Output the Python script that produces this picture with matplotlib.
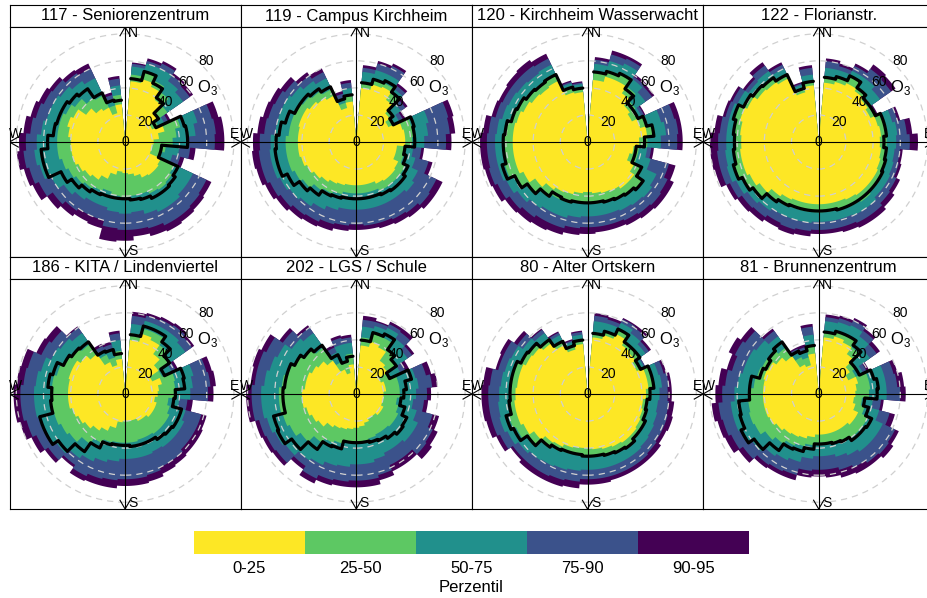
import numpy as np
import matplotlib.pyplot as plt
from matplotlib.patches import Circle, Rectangle

plt.rcParams['font.family'] = ['Liberation Sans', 'DejaVu Sans']
plt.rcParams['mathtext.fontset'] = 'custom'
plt.rcParams['mathtext.rm'] = 'Liberation Sans'

# wind direction sectors (centre of each 10 degree bin)
wd = list(range(10, 360, 10))

band_labels = ['0-25', '25-50', '50-75', '75-90', '90-95']
band_colors = ['#FDE725', '#5DC863', '#21908C', '#3B528B', '#440154']
ring_values = [0, 20, 40, 60, 80]

# --- 117 - Seniorenzentrum
p25_117 = [45, 48, 45, 38, 30, 22, 30, 25, 21, 20, 20, 29, 30, 30, 29, 26, 24, 23, 22, 25, 30, 34, 36, 38, 40, 40, 40, 42, 44, 42, 35, 30, 28, 22, 28]
p50_117 = [50, 54, 50, 45, 38, 27, 42, 38, 35, 30, 28, 40, 42, 43, 42, 40, 40, 41, 40, 38, 40, 42, 44, 46, 48, 50, 50, 50, 50, 48, 45, 40, 38, 28, 35]
p75_117 = [56, 60, 60, 55, 52, 32, 55, 52, 47, 40, 36, 55, 55, 57, 57, 55, 52, 53, 52, 50, 50, 52, 55, 60, 65, 67, 65, 62, 60, 60, 58, 55, 52, 33, 42]
p90_117 = [58, 62, 64, 60, 58, 35, 66, 67, 66, 48, 42, 66, 67, 68, 68, 66, 65, 65, 64, 60, 60, 62, 65, 70, 73, 75, 73, 70, 68, 66, 65, 62, 60, 36, 47]
p95_117 = [59, 64, 66, 62, 61, 37, 71, 73, 73, 52, 45, 70, 71, 72, 73, 72, 70, 73, 74, 66, 65, 67, 70, 75, 77, 80, 78, 75, 72, 70, 68, 65, 64, 38, 49]
mean_117 = [47, 54, 48, 40, 30, 25, 45, 46, 46, 27, 27, 43, 45, 46, 46, 44, 43, 42, 42, 42, 43, 45, 48, 52, 62, 62, 57, 53, 52, 52, 50, 48, 40, 32, 31]

# --- 119 - Campus Kirchheim
p25_119 = [40, 44, 45, 38, 30, 26, 35, 36, 36, 30, 30, 34, 35, 35, 34, 32, 32, 32, 32, 33, 34, 36, 38, 40, 42, 43, 43, 43, 44, 44, 42, 40, 38, 26, 30]
p50_119 = [45, 48, 48, 44, 34, 30, 42, 42, 41, 35, 36, 40, 40, 40, 40, 38, 38, 38, 38, 40, 42, 44, 48, 50, 52, 52, 52, 50, 50, 50, 48, 46, 43, 30, 35]
p75_119 = [52, 55, 55, 48, 40, 35, 55, 53, 50, 42, 45, 50, 52, 50, 50, 50, 50, 50, 50, 52, 55, 58, 60, 62, 64, 64, 63, 60, 60, 60, 58, 55, 52, 34, 40]
p90_119 = [55, 60, 62, 51, 44, 38, 70, 69, 66, 48, 55, 65, 66, 64, 63, 62, 62, 61, 62, 63, 65, 66, 68, 70, 72, 72, 71, 68, 67, 66, 64, 60, 57, 37, 44]
p95_119 = [57, 62, 64, 53, 46, 40, 74, 73, 70, 50, 58, 70, 70, 68, 67, 66, 65, 65, 66, 68, 69, 70, 72, 74, 76, 77, 76, 73, 71, 70, 68, 63, 60, 39, 46]
mean_119 = [44, 48, 50, 45, 33, 30, 44, 43, 43, 36, 38, 42, 44, 44, 43, 42, 42, 42, 42, 43, 44, 48, 51, 56, 60, 60, 59, 57, 54, 50, 50, 48, 45, 33, 35]

# --- 120 - Kirchheim Wasserwacht
p25_120 = [46, 50, 50, 44, 38, 36, 40, 44, 38, 34, 32, 38, 42, 42, 40, 39, 38, 37, 38, 40, 41, 43, 47, 52, 55, 55, 55, 55, 54, 52, 50, 49, 50, 38, 37]
p50_120 = [52, 55, 57, 50, 43, 41, 46, 50, 44, 38, 38, 45, 50, 48, 47, 46, 46, 45, 45, 47, 47, 50, 55, 60, 63, 62, 62, 61, 59, 58, 56, 55, 56, 43, 41]
p75_120 = [58, 62, 64, 57, 52, 44, 56, 58, 54, 44, 48, 56, 58, 57, 56, 55, 55, 55, 56, 58, 58, 60, 63, 66, 68, 68, 68, 67, 65, 64, 63, 62, 63, 45, 43]
p90_120 = [61, 67, 68, 59, 58, 46, 66, 67, 66, 47, 62, 65, 66, 65, 64, 63, 63, 63, 64, 66, 66, 68, 70, 73, 75, 74, 74, 73, 70, 69, 69, 69, 68, 46, 44]
p95_120 = [63, 70, 70, 61, 60, 47, 70, 70, 70, 49, 67, 70, 70, 69, 68, 67, 67, 68, 69, 71, 72, 73, 74, 77, 78, 79, 79, 77, 73, 72, 73, 74, 72, 47, 45]
mean_120 = [52, 54, 56, 48, 41, 41, 45, 49, 42, 36, 36, 44, 50, 48, 47, 46, 45, 45, 45, 46, 45, 49, 54, 59, 65, 62, 62, 61, 58, 57, 55, 54, 55, 42, 40]

# --- 122 - Florianstr.
p25_122 = [44, 46, 48, 46, 44, 42, 45, 46, 45, 46, 47, 48, 48, 48, 47, 46, 46, 46, 46, 46, 47, 49, 53, 56, 58, 58, 57, 58, 60, 58, 55, 54, 52, 38, 42]
p50_122 = [48, 50, 54, 50, 47, 45, 50, 51, 50, 51, 52, 53, 53, 54, 53, 52, 52, 52, 52, 52, 53, 55, 58, 62, 64, 63, 62, 63, 65, 62, 60, 59, 56, 42, 46]
p75_122 = [55, 55, 58, 58, 55, 46, 56, 58, 57, 56, 57, 58, 58, 60, 60, 59, 59, 59, 60, 60, 60, 62, 64, 67, 70, 69, 68, 68, 68, 66, 63, 64, 60, 44, 50]
p90_122 = [60, 58, 62, 66, 65, 47, 60, 65, 67, 60, 61, 63, 64, 66, 66, 65, 65, 65, 66, 67, 66, 68, 69, 72, 75, 75, 74, 73, 71, 70, 66, 69, 63, 45, 55]
p95_122 = [62, 60, 64, 70, 69, 48, 62, 69, 73, 62, 63, 66, 68, 70, 70, 69, 68, 68, 70, 71, 70, 72, 73, 75, 79, 80, 80, 77, 73, 72, 68, 72, 65, 46, 57]
mean_122 = [48, 50, 54, 49, 46, 46, 50, 50, 48, 50, 51, 52, 52, 52, 52, 52, 51, 51, 51, 51, 52, 54, 59, 62, 65, 63, 62, 63, 65, 61, 59, 58, 55, 41, 45]

# --- 186 - KITA / Lindenviertel
p25_186 = [40, 46, 44, 36, 30, 22, 28, 25, 24, 22, 24, 24, 24, 22, 22, 20, 20, 20, 21, 26, 30, 33, 36, 38, 40, 42, 42, 42, 43, 43, 40, 36, 26, 22, 26]
p50_186 = [45, 50, 50, 44, 40, 30, 38, 37, 36, 32, 34, 36, 36, 36, 35, 35, 36, 36, 36, 37, 40, 45, 50, 52, 54, 55, 55, 54, 52, 50, 48, 45, 32, 28, 32]
p75_186 = [52, 56, 56, 56, 54, 38, 52, 50, 48, 40, 46, 48, 48, 48, 47, 48, 48, 48, 50, 52, 55, 58, 62, 64, 66, 67, 67, 66, 64, 60, 58, 55, 36, 34, 40]
p90_186 = [58, 60, 61, 62, 60, 41, 62, 63, 61, 46, 58, 58, 58, 60, 60, 62, 63, 63, 64, 65, 67, 64, 69, 72, 75, 77, 77, 75, 74, 68, 66, 60, 39, 38, 45]
p95_186 = [61, 62, 63, 64, 62, 43, 66, 67, 65, 50, 62, 63, 63, 64, 65, 67, 68, 68, 70, 70, 71, 66, 72, 76, 80, 82, 82, 80, 79, 72, 71, 61, 41, 40, 47]
mean_186 = [44, 52, 52, 47, 40, 32, 45, 44, 37, 36, 43, 43, 42, 41, 39, 39, 39, 38, 38, 39, 44, 52, 60, 65, 65, 55, 54, 57, 55, 50, 48, 47, 35, 34, 30]

# --- 202 - LGS / Schule
p25_202 = [36, 40, 38, 30, 28, 20, 22, 22, 20, 20, 20, 22, 22, 20, 20, 22, 24, 25, 26, 27, 28, 30, 34, 36, 38, 40, 40, 38, 38, 36, 34, 30, 20, 16, 22]
p50_202 = [42, 46, 46, 40, 36, 27, 32, 32, 32, 30, 32, 34, 34, 33, 33, 34, 35, 35, 36, 38, 40, 44, 50, 54, 56, 57, 57, 55, 52, 50, 46, 42, 26, 24, 30]
p75_202 = [50, 52, 54, 50, 46, 36, 45, 46, 44, 42, 46, 50, 50, 48, 48, 50, 52, 52, 54, 55, 58, 60, 64, 66, 68, 70, 70, 68, 66, 64, 58, 55, 34, 38, 38]
p90_202 = [55, 55, 57, 56, 50, 40, 53, 56, 52, 50, 58, 62, 63, 58, 58, 62, 64, 64, 65, 66, 69, 65, 72, 73, 74, 77, 77, 75, 75, 73, 66, 60, 38, 43, 42]
p95_202 = [58, 56, 59, 59, 52, 43, 57, 60, 55, 53, 63, 66, 68, 63, 63, 66, 69, 69, 69, 70, 73, 68, 75, 76, 77, 81, 81, 78, 79, 77, 69, 62, 40, 45, 44]
mean_202 = [40, 47, 49, 40, 36, 27, 42, 37, 35, 33, 37, 41, 42, 40, 38, 37, 36, 36, 36, 42, 43, 50, 58, 64, 63, 54, 54, 53, 53, 50, 47, 44, 32, 25, 28]

# --- 80 - Alter Ortskern
p25_80 = [42, 45, 49, 44, 43, 40, 45, 45, 43, 41, 42, 43, 44, 44, 43, 42, 41, 40, 40, 41, 43, 44, 48, 52, 54, 54, 53, 52, 52, 50, 49, 46, 40, 34, 37]
p50_80 = [46, 48, 53, 48, 47, 44, 49, 49, 47, 45, 46, 47, 48, 49, 48, 47, 46, 46, 45, 46, 47, 49, 54, 58, 60, 58, 57, 57, 57, 55, 53, 50, 44, 38, 41]
p75_80 = [54, 54, 58, 55, 52, 46, 54, 55, 53, 52, 53, 54, 55, 56, 56, 56, 56, 56, 57, 58, 59, 60, 62, 65, 67, 66, 65, 64, 63, 62, 58, 55, 48, 40, 44]
p90_80 = [58, 57, 61, 60, 55, 47, 58, 60, 59, 60, 61, 61, 62, 63, 63, 63, 63, 63, 65, 66, 67, 67, 67, 71, 73, 73, 73, 72, 68, 68, 63, 58, 50, 41, 46]
p95_80 = [60, 59, 62, 62, 57, 47, 60, 62, 62, 64, 65, 64, 66, 66, 66, 66, 67, 67, 70, 71, 71, 71, 69, 74, 77, 78, 78, 77, 70, 71, 66, 59, 51, 42, 47]
mean_80 = [45, 48, 53, 47, 47, 43, 49, 49, 46, 44, 45, 47, 47, 49, 48, 47, 46, 46, 45, 45, 46, 48, 54, 60, 62, 58, 57, 57, 57, 54, 53, 49, 43, 37, 40]

# --- 81 - Brunnenzentrum
p25_81 = [42, 44, 42, 36, 28, 24, 30, 28, 27, 26, 28, 32, 32, 30, 30, 30, 30, 30, 32, 34, 35, 36, 38, 40, 41, 41, 41, 41, 42, 41, 38, 34, 24, 22, 30]
p50_81 = [46, 48, 48, 42, 34, 30, 38, 38, 37, 32, 35, 40, 40, 40, 38, 37, 36, 36, 38, 40, 42, 45, 48, 52, 53, 52, 50, 48, 47, 46, 44, 42, 30, 28, 36]
p75_81 = [54, 55, 56, 52, 46, 36, 50, 50, 50, 40, 46, 52, 52, 52, 50, 48, 46, 46, 48, 52, 54, 56, 60, 63, 65, 65, 62, 60, 58, 58, 56, 52, 34, 33, 44]
p90_81 = [57, 58, 60, 57, 52, 39, 57, 58, 60, 46, 54, 62, 63, 62, 60, 58, 56, 56, 57, 62, 63, 64, 68, 71, 73, 74, 71, 69, 66, 68, 66, 57, 37, 36, 50]
p95_81 = [59, 60, 62, 59, 55, 41, 60, 63, 64, 48, 58, 65, 67, 65, 65, 64, 62, 61, 62, 66, 66, 67, 72, 76, 77, 79, 76, 74, 70, 73, 70, 59, 38, 38, 52]
mean_81 = [46, 48, 48, 44, 33, 33, 42, 44, 43, 34, 38, 43, 42, 42, 39, 38, 37, 37, 41, 44, 45, 51, 58, 63, 60, 59, 51, 51, 45, 43, 45, 47, 35, 33, 36]

panels = [
    ('117 - Seniorenzentrum', [p25_117, p50_117, p75_117, p90_117, p95_117], mean_117),
    ('119 - Campus Kirchheim', [p25_119, p50_119, p75_119, p90_119, p95_119], mean_119),
    ('120 - Kirchheim Wasserwacht', [p25_120, p50_120, p75_120, p90_120, p95_120], mean_120),
    ('122 - Florianstr.', [p25_122, p50_122, p75_122, p90_122, p95_122], mean_122),
    ('186 - KITA / Lindenviertel', [p25_186, p50_186, p75_186, p90_186, p95_186], mean_186),
    ('202 - LGS / Schule', [p25_202, p50_202, p75_202, p90_202, p95_202], mean_202),
    ('80 - Alter Ortskern', [p25_80, p50_80, p75_80, p90_80, p95_80], mean_80),
    ('81 - Brunnenzentrum', [p25_81, p50_81, p75_81, p90_81, p95_81], mean_81),
]

W, H = 927, 598
upper = 85


def stepped(values, closed):
    # outline made of one arc per sector, stepping radially between sectors
    xs, ys = [], []
    if closed:
        xs.append(0.0)
        ys.append(0.0)
    for c, r in zip(wd, values):
        t = np.radians(np.linspace(c - 5, c + 5, 11))
        xs.extend(r * np.sin(t))
        ys.extend(r * np.cos(t))
    if closed:
        xs.append(0.0)
        ys.append(0.0)
    return xs, ys


def arrow_axes(ax):
    L = 7.5
    dx, dy = L * np.sin(np.radians(30)), L * np.cos(np.radians(30))
    ax.plot([-upper, upper], [0, 0], color='black', lw=0.8, zorder=4)
    ax.plot([0, 0], [-upper, upper], color='black', lw=0.8, zorder=4)
    for s in (1, -1):
        ax.plot([-dx, 0, dx], [s * (upper - dy), s * upper, s * (upper - dy)],
                color='black', lw=0.8, zorder=4)
        ax.plot([s * (upper - dy), s * upper, s * (upper - dy)], [-dx, 0, dx],
                color='black', lw=0.8, zorder=4)
    k = 0.95 * upper
    o = 0.07 * upper
    for x, y, lab in [(o, k, 'N'), (k, o, 'E'), (o, -k, 'S'), (-k, o, 'W')]:
        ax.text(x, y, lab, fontsize=10, ha='center', va='center', zorder=6)


fig = plt.figure(figsize=(W / 100, H / 100), dpi=100)

col_x = [9.5, 240.7, 471.9, 703.1]
pw, ph, sh = 231.2, 230, 22
row_top = [5, 257]

for i, (title, bands, mean) in enumerate(panels):
    row, col = divmod(i, 4)
    x0 = col_x[col]
    ys = row_top[row]
    sax = fig.add_axes([x0 / W, 1 - (ys + sh) / H, pw / W, sh / H])
    sax.set_xticks([])
    sax.set_yticks([])
    for sp in sax.spines.values():
        sp.set_linewidth(0.8)
    sax.text(0.5, 0.5, title, fontsize=12, ha='center', va='center',
             transform=sax.transAxes)

    ax = fig.add_axes([x0 / W, 1 - (ys + sh + ph) / H, pw / W, ph / H])
    ax.set_xlim(-upper, upper)
    ax.set_ylim(-upper, upper)
    ax.set_xticks([])
    ax.set_yticks([])
    for sp in ax.spines.values():
        sp.set_linewidth(0.8)

    # widest band first so the narrower ones sit on top
    for vals, colr in zip(bands[::-1], band_colors[::-1]):
        xs, ys_ = stepped(vals, True)
        ax.fill(xs, ys_, color=colr, lw=0, zorder=1)

    for r in ring_values[1:]:
        ax.add_patch(Circle((0, 0), r, fill=False, ec='#d0d0d0', lw=0.9,
                            ls=(0, (5, 4)), zorder=3))

    arrow_axes(ax)

    xs, ys_ = stepped(mean, False)
    ax.plot(xs, ys_, color='black', lw=2.3, solid_joinstyle='round',
            solid_capstyle='round', zorder=5)

    # ring labels along the 45 degree line, just outside each ring
    for r in ring_values:
        ax.text(r * 0.745, r * 0.745, str(r),
                fontsize=10, ha='center', va='center', zorder=6)
    ax.text(60.5, 40, 'O$_3$', fontsize=12, ha='center', va='center', zorder=6)

# percentile key
kax = fig.add_axes([194 / W, 1 - 554 / H, 555 / W, 23 / H])
kax.set_xlim(0, len(band_labels))
kax.set_ylim(0, 1)
kax.axis('off')
for j, (lab, colr) in enumerate(zip(band_labels, band_colors)):
    kax.add_patch(Rectangle((j, 0), 1, 1, color=colr, lw=0))
    kax.text(j + 0.5, -0.65, lab, fontsize=12, ha='center', va='center')
fig.text(471 / W, 1 - 587 / H, 'Perzentil', fontsize=12, ha='center', va='center')

fig.savefig('out.png', dpi=100)
